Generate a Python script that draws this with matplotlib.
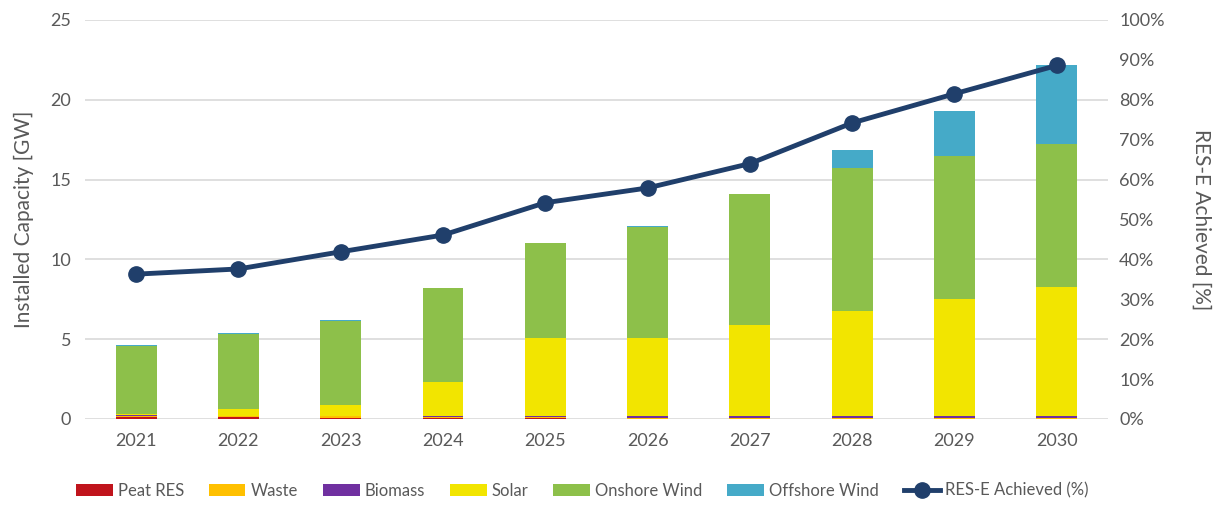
#!/usr/bin/env python3
"""Installed RES capacity by technology with RES-E share achieved, 2021-2030."""

import matplotlib.pyplot as plt
import numpy as np
from matplotlib.ticker import PercentFormatter

plt.rcParams.update({
    'font.family': ['Lato', 'DejaVu Sans'],
    'font.size': 13,
})

years = ['2021', '2022', '2023', '2024', '2025', '2026', '2027', '2028', '2029', '2030']

# Installed capacity [GW] per technology (stacked, bottom to top)
peat = [0.12, 0.10, 0.08, 0.06, 0.04, 0.0, 0.0, 0.0, 0.0, 0.0]
waste = [0.08, 0.08, 0.08, 0.08, 0.08, 0.08, 0.08, 0.08, 0.08, 0.08]
biomass = [0.03, 0.03, 0.03, 0.04, 0.06, 0.10, 0.10, 0.10, 0.10, 0.10]
solar = [0.07, 0.43, 0.70, 2.13, 4.88, 4.92, 5.72, 6.59, 7.36, 8.07]
onshore = [4.28, 4.71, 5.26, 5.89, 5.94, 6.93, 8.17, 8.96, 8.96, 8.98]
offshore = [0.04, 0.03, 0.03, 0.03, 0.04, 0.05, 0.03, 1.15, 2.81, 4.96]

# RES-E achieved [%]
res_e = [36.3, 37.6, 41.9, 46.1, 54.2, 57.9, 64.0, 74.2, 81.5, 88.6]

series = [
    ('Peat RES', peat, '#C0141C'),
    ('Waste', waste, '#FFC000'),
    ('Biomass', biomass, '#7030A0'),
    ('Solar', solar, '#F2E500'),
    ('Onshore Wind', onshore, '#8DC04A'),
    ('Offshore Wind', offshore, '#45AAC8'),
]

text_col = '#595959'

fig = plt.figure(figsize=(12.26, 5.07), dpi=100)
ax = fig.add_axes([0.0693, 0.1736, 0.8344, 0.787])

x = np.arange(len(years))
bottom = np.zeros(len(years))
handles = []
for name, vals, col in series:
    vals = np.array(vals)
    b = ax.bar(x, vals, 0.4, bottom=bottom, color=col, label=name, zorder=2)
    handles.append(b)
    bottom += vals

ax.set_xlim(-0.5, len(years) - 0.5)
ax.set_ylim(0, 25)
ax.set_yticks(np.arange(0, 26, 5))
ax.set_xticks(x)
ax.set_xticklabels(years)
ax.yaxis.grid(True, color='#D9D9D9', linewidth=1.2, zorder=0)
ax.set_axisbelow(True)
for s in ax.spines.values():
    s.set_visible(False)
ax.tick_params(length=0, colors=text_col, labelsize=13, pad=10)
ax.set_ylabel('Installed Capacity [GW]', color=text_col, fontsize=15, labelpad=12)

ax2 = ax.twinx()
ax2.set_ylim(0, 100)
ax2.set_yticks(np.arange(0, 101, 10))
ax2.yaxis.set_major_formatter(PercentFormatter(decimals=0))
for s in ax2.spines.values():
    s.set_visible(False)
ax2.tick_params(length=0, colors=text_col, labelsize=13, pad=8)
ax2.set_ylabel('RES-E Achieved [%]', color=text_col, fontsize=15,
               rotation=270, labelpad=34)
line, = ax2.plot(x, res_e, color='#203F6B', linewidth=3.5, marker='o',
                 markersize=11, label='RES-E Achieved (%)', zorder=3)

fig.legend(handles + [line], [h.get_label() for h in handles] + [line.get_label()],
           loc='center', bbox_to_anchor=(0.475, 0.032), ncol=7, frameon=False,
           fontsize=12, handlelength=2.2, handleheight=0.8, columnspacing=1.5,
           handletextpad=0.3, labelcolor=text_col)

fig.savefig('out.png', dpi=100)
